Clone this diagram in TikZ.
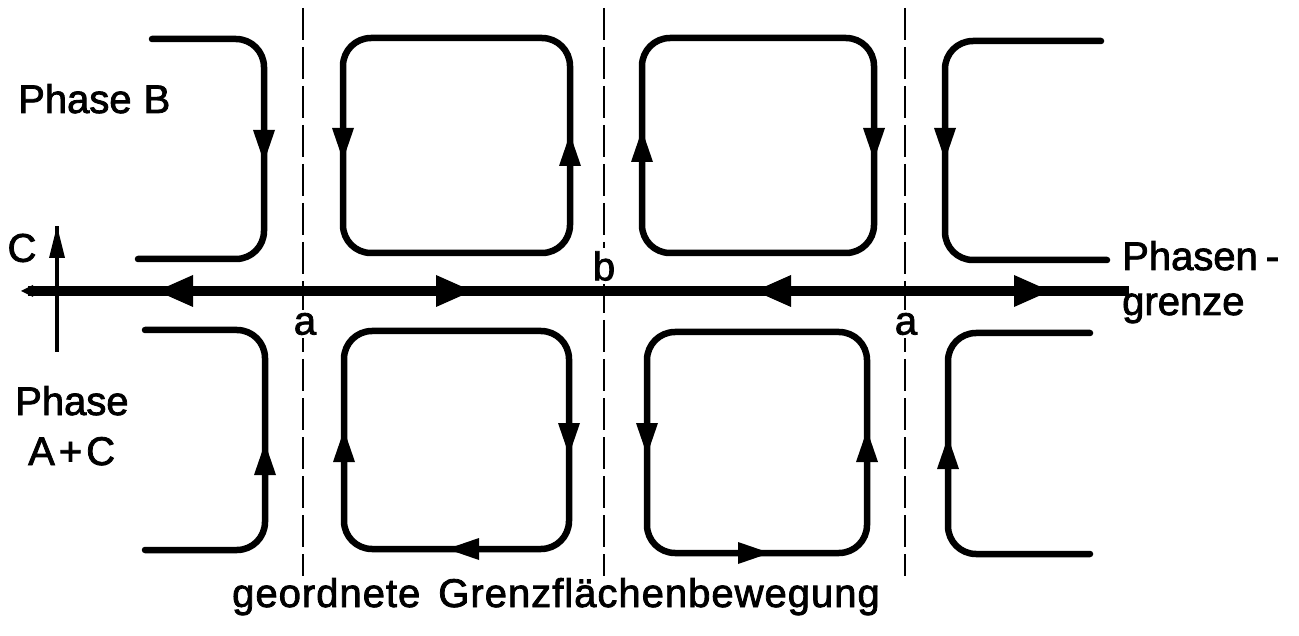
\documentclass[tikz,border=0pt]{standalone}
\usepackage{fontspec}
\setmainfont[FakeBold=2]{Liberation Sans}
\begin{document}
\begin{tikzpicture}[x=1pt,y=-1pt,
  flow/.style={line width=6.5pt,rounded corners=28pt,line cap=round},
  boundary/.style={line width=10pt},
  divider/.style={line width=2.8pt,dash pattern=on 32pt off 7pt},
  lbl/.style={font=\fontsize{40}{44}\selectfont,inner sep=0pt},
  cellmark/.style={lbl,fill=white,inner xsep=2pt,inner ysep=3pt},
  flowtip/.pic={\fill (0,0) -- (-32,-11) -- (-32,11) -- cycle;},
  bigtip/.pic={\fill (0,0) -- (-36,-16) -- (-36,16) -- cycle;},
  axtip/.pic={\fill (0,0) -- (-32,-8) -- (-32,8) -- cycle;}]
\useasboundingbox (0,0) rectangle (1299,636);

% cell dividers
\foreach \name/\xx in {d1/303,d2/604,d3/905}{
  \coordinate (\name t) at (\xx,8);
  \coordinate (\name b) at (\xx,576);
  \draw[divider] (\name t) -- (\name b);
}
\node[cellmark] (a1) at (305,324) {a};
\node[cellmark] (bb) at (604,266) {b};
\node[cellmark] (a2) at (906,324) {a};

% phase boundary
\coordinate (pgL) at (28,291);
\coordinate (pgR) at (1129,291);
\draw[boundary] (pgL) -- (pgR);
\fill (21,291) -- (33,285) -- (33,297) -- cycle;
\pic[rotate=180] at (157,291) {bigtip};
\pic at (472,291) {bigtip};
\pic[rotate=180] at (755,291) {bigtip};
\pic at (1050,291) {bigtip};

% c axis
\coordinate (cB) at (57,352);
\coordinate (cT) at (57,226);
\draw[line width=3.5pt] (cB) -- (cT);
\pic[rotate=90] at (cT) {axtip};
\node[lbl] (cl) at (22,248) {C};

% phase B, upper flows
\draw[flow] (152,39) -- (264,39) -- (264,259) -- (138,259);
\pic[rotate=-90] at (264,162) {flowtip};
\draw[flow] (343,38) rectangle (570,253);
\pic[rotate=-90] at (343,160) {flowtip};
\pic[rotate=90] at (570,134) {flowtip};
\draw[flow] (642,38) rectangle (874,253);
\pic[rotate=90] at (642,130) {flowtip};
\pic[rotate=-90] at (874,160) {flowtip};
\draw[flow] (1101,41) -- (945,41) -- (945,260) -- (1107,260);
\pic[rotate=-90] at (945,160) {flowtip};

% phase A+C, lower flows
\draw[flow] (145,330) -- (265,330) -- (265,550) -- (145,550);
\pic[rotate=90] at (265,443) {flowtip};
\draw[flow] (344,331) rectangle (569,549);
\pic[rotate=90] at (344,430) {flowtip};
\pic[rotate=-90] at (569,455) {flowtip};
\pic[rotate=180] at (447,549) {flowtip};
\draw[flow] (647,332) rectangle (867,553);
\pic[rotate=-90] at (647,455) {flowtip};
\pic[rotate=90] at (867,430) {flowtip};
\pic at (770,553) {flowtip};
\draw[flow] (1090,333) -- (948,333) -- (948,554) -- (1090,554);
\pic[rotate=90] at (948,437) {flowtip};

% labels
\node[lbl,anchor=base west] (pb) at (18,113) {Phase\hspace{0.3em}B};
\node[lbl,anchor=base west] (pa) at (15,415) {Phase};
\node[lbl,anchor=base west] (pac) at (28,465) {A\hspace{0.1em}+\hspace{0.1em}C};
\node[lbl,anchor=base west] (pg1) at (1122,270) {Phasen\hspace{0.2em}-};
\node[lbl,anchor=base west] (pg2) at (1122,315) {grenze};
\node[lbl,anchor=base west] (mv) at (232,607)
  {\addfontfeatures{LetterSpace=2.5}geordnete\hspace{0.45em}Grenzflächenbewegung};
\end{tikzpicture}
\end{document}
